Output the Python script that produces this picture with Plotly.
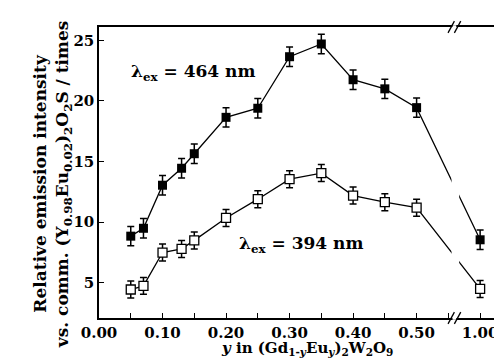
import plotly.graph_objects as go

# ---- data ----
y_frac = [0.05, 0.07, 0.10, 0.13, 0.15, 0.20, 0.25, 0.30, 0.35, 0.40, 0.45, 0.50, 1.00]
int_464 = [8.85, 9.5, 13.05, 14.45, 15.65, 18.65, 19.4, 23.65, 24.7, 21.75, 21.0, 19.45, 8.55]
err_464 = [0.8, 0.8, 0.8, 0.8, 0.8, 0.8, 0.8, 0.8, 0.8, 0.8, 0.8, 0.8, 0.8]
int_394 = [4.45, 4.75, 7.5, 7.8, 8.5, 10.35, 11.9, 13.55, 14.05, 12.2, 11.65, 11.2, 4.5]
err_394 = [0.7, 0.7, 0.7, 0.7, 0.7, 0.7, 0.7, 0.7, 0.7, 0.7, 0.7, 0.7, 0.7]
x_ticks = [0.0, 0.1, 0.2, 0.3, 0.4, 0.5, 1.0]
x_tick_labels = ["0.00", "0.10", "0.20", "0.30", "0.40", "0.50", "1.00"]
x_minor = [0.05, 0.15, 0.25, 0.35, 0.45, 0.55]
y_ticks = [5, 10, 15, 20, 25]

# broken axis: values above 0.5 are shifted left by 0.4
BREAK_SHIFT = 0.4
def bx(v):
    return v if v <= 0.55 else v - BREAK_SHIFT

FONT = "DejaVu Serif"
TICKFONT = dict(family=FONT, size=15, color="black", weight="bold")
fig = go.Figure()

fig.add_trace(go.Scatter(
    x=[bx(v) for v in y_frac], y=int_464, mode="lines+markers",
    line=dict(color="black", width=1.3),
    marker=dict(symbol="square", size=9, color="black"),
    error_y=dict(type="data", array=err_464, color="black", thickness=1.5, width=3.5),
    showlegend=False))
fig.add_trace(go.Scatter(
    x=[bx(v) for v in y_frac], y=int_394, mode="lines+markers",
    line=dict(color="black", width=1.3),
    marker=dict(symbol="square", size=9, color="white", line=dict(color="black", width=1.3)),
    error_y=dict(type="data", array=err_394, color="black", thickness=1.5, width=3.5),
    showlegend=False))

shapes = []
# gap in the connecting lines at the axis break
shapes.append(dict(type="rect", xref="x", yref="y", x0=0.555, x1=0.567, y0=2.6, y1=25.5,
                   fillcolor="white", line=dict(width=0), layer="above"))
# break marks on top and bottom axes
for yp in (0.0, 1.0):
    shapes.append(dict(type="rect", xref="x", yref="paper", x0=0.5565, x1=0.5625,
                       y0=yp - 0.006, y1=yp + 0.006, fillcolor="white", line=dict(width=0), layer="above"))
    for xc in (0.5545, 0.5645):
        shapes.append(dict(type="line", xref="x", yref="paper", x0=xc - 0.005, x1=xc + 0.005,
                           y0=yp - 0.02, y1=yp + 0.02, line=dict(color="black", width=1.3), layer="above"))

fig.update_layout(
    width=502, height=363,
    margin=dict(l=91, r=12, t=19, b=53),
    paper_bgcolor="white", plot_bgcolor="white",
    font=dict(family=FONT, size=16, color="black", weight="bold"),
    shapes=shapes,
    xaxis=dict(range=[0, 0.625], tickvals=[bx(v) for v in x_ticks], ticktext=x_tick_labels,
               ticks="inside", ticklen=5, tickwidth=1.2, tickcolor="black",
               minor=dict(tickvals=x_minor, ticks="inside", ticklen=5, tickwidth=1.2, tickcolor="black"),
               showline=True, linecolor="black", linewidth=1.5, mirror=True,
               showgrid=False, zeroline=False,
               tickfont=TICKFONT),
    yaxis=dict(range=[2.1, 26.1], tickvals=y_ticks,
               ticks="inside", ticklen=5, tickwidth=1.2, tickcolor="black",
               showline=True, linecolor="black", linewidth=1.5, mirror=True,
               showgrid=False, zeroline=False,
               tickfont=TICKFONT),
    annotations=[
        dict(text="λ<sub>ex</sub> = 464 nm", xref="paper", yref="paper",
             x=(185 - 91) / 399, y=(310 - 64) / 291, xanchor="center", yanchor="middle",
             showarrow=False, font=dict(family=FONT, size=17, weight="bold")),
        dict(text="λ<sub>ex</sub> = 394 nm", xref="paper", yref="paper",
             x=(294 - 91) / 399, y=(310 - 236) / 291, xanchor="center", yanchor="middle",
             showarrow=False, font=dict(family=FONT, size=17, weight="bold")),
        dict(text="Relative emission intensity<br>vs. comm. (Y<sub>0.98</sub>Eu<sub>0.02</sub>)<sub>2</sub>O<sub>2</sub>S / times",
             xref="paper", yref="paper", x=(44 - 91) / 399, y=(310 - 176) / 291,
             xanchor="center", yanchor="middle", textangle=-90, showarrow=False,
             font=dict(family=FONT, size=17, weight="bold")),
        dict(text="<i>y</i> in (Gd<sub>1-<i>y</i></sub>Eu<sub><i>y</i></sub>)<sub>2</sub>W<sub>2</sub>O<sub>9</sub>",
             xref="paper", yref="paper", x=(300 - 91) / 399, y=(310 - 340) / 291,
             xanchor="center", yanchor="middle", showarrow=False,
             font=dict(family=FONT, size=15, weight="bold")),
    ],
)

fig.write_html("out.html")
